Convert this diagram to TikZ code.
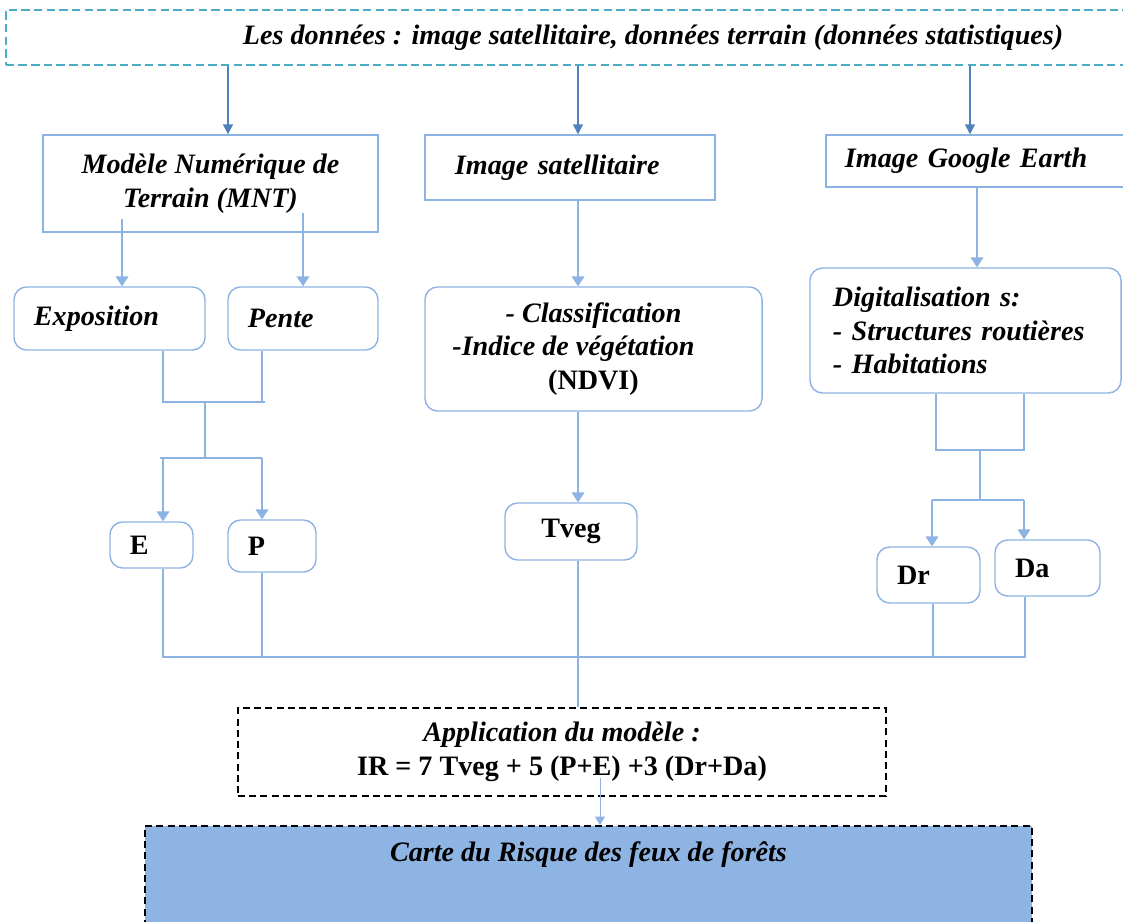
\documentclass[tikz,border=0pt]{standalone}
\usepackage{fontspec}
\setmainfont{Liberation Serif}
\usetikzlibrary{arrows.meta}
\usetikzlibrary{calc}
\definecolor{linkblue}{HTML}{8DB3E2}
\definecolor{darkblue}{HTML}{4F81BD}
\definecolor{cyanline}{HTML}{4BACC6}
\definecolor{cartefill}{HTML}{8EB4E3}
\tikzset{
  txt/.style={font=\fontsize{20}{24}\selectfont\bfseries\itshape},
  box/.style={draw=linkblue, line width=1pt, inner sep=0pt, txt},
  rbox/.style={box, rounded corners=9pt, align=left},
  smallbox/.style={rbox, font=\fontsize{20}{24}\selectfont\bfseries},
  databox/.style={draw=cyanline, line width=1.2pt, dash pattern=on 6pt off 3pt, inner sep=0pt, txt},
  modelbox/.style={draw=black, line width=1.2pt, dash pattern=on 5pt off 3pt, inner sep=0pt, txt, align=center},
  cartebox/.style={modelbox, fill=cartefill},
  link/.style={draw=linkblue, line width=1pt},
  linkarrow/.style={link, -{Triangle[width=9pt,length=7pt]}},
  toparrow/.style={draw=darkblue, line width=1pt, -{Triangle[width=7pt,length=7pt]}}
}
\begin{document}
\begin{tikzpicture}[x=0.025cm,y=-0.025cm]
  \useasboundingbox (0,0) rectangle (1123,921);
  \clip (0,0) rectangle (1123,921);

  % data and first level
  \node (top) [databox, minimum width=32.35cm, minimum height=1.375cm] at (653,37.5) {Les données : image satellitaire, données terrain (données statistiques)};
  \node (mnt) [box, minimum width=8.375cm, minimum height=2.425cm, align=center] at (210.5,183.5) {Modèle Numérique de\\Terrain (MNT)};
  \node (sat) [box, minimum width=7.25cm, minimum height=1.625cm, text width=5.75cm, align=left] at (570,167.5) {Image satellitaire};
  \node (ge) [box, minimum width=7.85cm, minimum height=1.3cm, text width=6.9cm, align=left] at (983,161) {Image Google Earth};

  % treatments
  \node (expo) [rbox, minimum width=4.775cm, minimum height=1.575cm, text width=3.775cm] at (109.5,318.5) {Exposition};
  \node (pente) [rbox, minimum width=3.75cm, minimum height=1.575cm, text width=2.75cm] at (303,318.5) {Pente};
  \node (cls) [rbox, minimum width=8.425cm, minimum height=3.1cm, align=center] at (593.5,349) {- Classification\\-Indice de végétation\rule{1cm}{0pt}\\{\upshape (NDVI)}};
  \node (dig) [rbox, minimum width=7.775cm, minimum height=3.125cm, text width=6.625cm] at (965.5,330.5) {Digitalisation s:\\- Structures routières\\- Habitations};

  % factors
  \node (e) [smallbox, minimum width=2.075cm, minimum height=1.15cm, text width=1.075cm] at (151.5,545) {E};
  \node (p) [smallbox, minimum width=2.2cm, minimum height=1.3cm, text width=1.2cm] at (272,546) {P};
  \node (tveg) [smallbox, minimum width=3.3cm, minimum height=1.425cm, align=center] at (571,531.5) {Tveg};
  \node (dr) [smallbox, minimum width=2.575cm, minimum height=1.4cm, text width=1.575cm] at (928.5,575) {Dr};
  \node (da) [smallbox, minimum width=2.625cm, minimum height=1.4cm, text width=1.625cm] at (1047.5,568) {Da};

  % model and result
  \node (app) [modelbox, minimum width=16.2cm, minimum height=2.2cm] at (562,752) {Application du modèle :\\{\upshape IR = 7 Tveg + 5 (P+E) +3 (Dr+Da)}};
  \node (carte) [cartebox, minimum width=22.175cm, minimum height=3.35cm,
    label={[txt, anchor=north, yshift=-8pt]north:Carte du Risque des feux de forêts}] at (588.5,893) {};

  \coordinate (k1) at (228,0);
  \coordinate (k2) at (578,0);
  \coordinate (k3) at (970,0);
  \coordinate (k4) at (122,219);
  \coordinate (k5) at (303,213);
  \coordinate (k6) at (977,0);
  \coordinate (j1) at (205,402);
  \coordinate (j2) at (205,458);
  \coordinate (j3) at (980,450);
  \coordinate (j4) at (980,500);
  \coordinate (bus) at (0,657);
  \coordinate (k7) at (600,778);

  \draw[toparrow] (top.south -| k1) -- (mnt.north -| k1);
  \draw[toparrow] (top.south -| k2) -- (sat.north -| k2);
  \draw[toparrow] (top.south -| k3) -- (ge.north -| k3);

  \draw[linkarrow] (k4) -- (expo.north -| k4);
  \draw[linkarrow] (k5) -- (pente.north -| k5);
  \draw[linkarrow] (sat.south -| k2) -- (cls.north -| k2);
  \draw[linkarrow] (ge.south -| k6) -- (dig.north -| k6);
  \draw[linkarrow] (cls.south -| k2) -- (tveg.north -| k2);

  % E and P from the MNT
  \draw[link] (expo.south -| 163,0) -- (163,0 |- j1) -- ($(j1)+(60,0)$);
  \draw[link] (pente.south -| 262,0) -- (262,0 |- j1);
  \draw[link] (j1) -- (j2);
  \draw[link] ($(j2)+(-45,0)$) -- ($(j2)+(57,0)$);
  \draw[linkarrow] (163,0 |- j2) -- (e.north -| 163,0);
  \draw[linkarrow] (262,0 |- j2) -- (p.north -| 262,0);

  % Dr and Da from the digitalisation
  \draw[link] (dig.south -| 936,0) -- (936,0 |- j3) -- (1024,0 |- j3) -- (dig.south -| 1024,0);
  \draw[link] (j3) -- (j4);
  \draw[link] (932,0 |- j4) -- (1024,0 |- j4);
  \draw[linkarrow] (932,0 |- j4) -- (dr.north -| 932,0);
  \draw[linkarrow] (1024,0 |- j4) -- (da.north -| 1024,0);

  % towards the model
  \draw[link] (e.south -| 163,0) -- (163,0 |- bus) -- (1025,0 |- bus) -- (da.south -| 1025,0);
  \draw[link] (p.south -| 262,0) -- (262,0 |- bus);
  \draw[link] (dr.south -| 933,0) -- (933,0 |- bus);
  \draw[link] (tveg.south -| k2) -- (app.north -| k2);
  \draw[link, line width=0.7pt, -{Triangle[width=7pt,length=6pt]}] (k7) -- (carte.north -| k7);
\end{tikzpicture}
\end{document}
